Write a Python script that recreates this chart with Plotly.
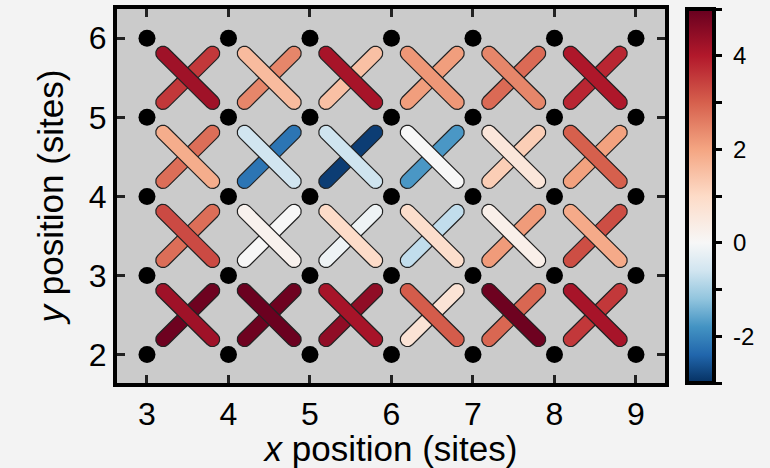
import numpy as np
import plotly.graph_objects as go
from plotly.colors import sample_colorscale, hex_to_rgb

# ---- lattice ----------------------------------------------------------
SITE_X = [3, 4, 5, 6, 7, 8, 9]
SITE_Y = [2, 3, 4, 5, 6]

# Plaquettes are labelled by their lower-left corner.
CELL_X = [3, 4, 5, 6, 7, 8]
CELL_Y = [2, 3, 4, 5]

# Diagonal bond values, one row per CELL_Y entry, one column per CELL_X entry.
# DOWN: bond from the upper-left site to the lower-right site ("\")
# UP:   bond from the lower-left site to the upper-right site ("/")
DOWN = [
    [4.25, 4.95, 4.15, 3.05, 4.90, 4.15],   # y = 2
    [3.30, 0.20, 0.95, 0.90, 0.30, 1.90],   # y = 3
    [1.85, -0.60, -0.62, 0.00, 0.60, 3.00],  # y = 4
    [4.25, 1.60, 4.15, 2.20, 2.45, 4.05],   # y = 5
]
UP = [
    [4.90, 4.90, 4.45, 0.70, 2.90, 3.55],   # y = 2
    [2.80, 0.00, -0.15, -0.75, 2.15, 3.25],  # y = 3
    [2.80, -2.20, -2.85, -1.75, 1.25, 2.05],  # y = 4
    [3.55, 2.45, 1.50, 2.10, 2.85, 3.80],   # y = 5
]

CMIN, CMAX = -3.0, 5.0
CB_TICKS = [-3, -2, -1, 0, 1, 2, 3, 4, 5]
CB_LABELS = ["", "-2", "", "0", "", "2", "", "4", ""]

# ---- colour scale: RdBu (reversed) with its white midpoint pinned at 0 ----
BLUE_HALF = ["#053061", "#2166ac", "#4393c3", "#92c5de", "#d1e5f0", "#f7f7f7"]
RED_HALF = ["#f7f7f7", "#fddbc7", "#f4a582", "#d6604d", "#b2182b", "#67001f"]
zero = (0 - CMIN) / (CMAX - CMIN)


def rgb(h):
    r, g, b = hex_to_rgb(h)
    return f"rgb({r},{g},{b})"


colorscale = []
for i, c in enumerate(BLUE_HALF):
    colorscale.append([zero * i / (len(BLUE_HALF) - 1), rgb(c)])
for i, c in enumerate(RED_HALF[1:], start=1):
    colorscale.append([zero + (1 - zero) * i / (len(RED_HALF) - 1), rgb(c)])


def value_color(v):
    t = (v - CMIN) / (CMAX - CMIN)
    return sample_colorscale(colorscale, [min(max(t, 0), 1)])[0]


# ---- layout geometry ----------------------------------------------------
W, H = 770, 468
M = dict(l=117, r=105, t=5, b=85)
XRANGE = [2.632, 9.356]
YRANGE = [1.64, 6.37]
kx = (W - M["l"] - M["r"]) / (XRANGE[1] - XRANGE[0])   # px per site in x
ky = (H - M["t"] - M["b"]) / (YRANGE[1] - YRANGE[0])   # px per site in y

BAR_HALF = 35.0    # half length of a bond's centre line, px
BAR_R = 7.2        # half width of a bond (cap radius), px


def stadium(cx, cy, sign):
    """Rounded bar centred on (cx, cy) along the (1, sign) diagonal."""
    th = np.arctan2(sign, 1.0)
    ux, uy = np.cos(th), np.sin(th)
    a = np.linspace(-np.pi / 2, np.pi / 2, 24)
    xs, ys = [], []
    for end, rng in ((1, a), (-1, a + np.pi)):
        px = end * BAR_HALF * ux + BAR_R * np.cos(th + rng)
        py = end * BAR_HALF * uy + BAR_R * np.sin(th + rng)
        xs.extend(cx + px / kx)
        ys.extend(cy + py / ky)
    xs.append(xs[0])
    ys.append(ys[0])
    return xs, ys


fig = go.Figure()

for j, y0 in enumerate(CELL_Y):
    for i, x0 in enumerate(CELL_X):
        cx, cy = x0 + 0.5, y0 + 0.5
        for vals, sign in ((UP, 1), (DOWN, -1)):
            xs, ys = stadium(cx, cy, sign)
            fig.add_trace(go.Scatter(
                x=xs, y=ys, mode="lines", fill="toself",
                fillcolor=value_color(vals[j][i]),
                line=dict(color="#222222", width=1.2),
                hoverinfo="skip", showlegend=False,
            ))

# lattice sites
gx, gy = np.meshgrid(SITE_X, SITE_Y)
fig.add_trace(go.Scatter(
    x=gx.ravel(), y=gy.ravel(), mode="markers",
    marker=dict(size=17, color="black", line=dict(width=0)),
    hoverinfo="skip", showlegend=False,
))

# colour bar
NB = "\u00a0"
fig.add_trace(go.Scatter(
    x=[None], y=[None], mode="markers", showlegend=False, hoverinfo="skip",
    marker=dict(
        color=[CMIN], cmin=CMIN, cmax=CMAX, colorscale=colorscale,
        showscale=True,
        colorbar=dict(
            x=1.0395, xanchor="left", xpad=0, y=0.5, yanchor="middle",
            len=1.0, lenmode="fraction", ypad=0,
            thickness=27, outlinewidth=4, outlinecolor="black",
            tickmode="array", tickvals=CB_TICKS,
            ticktext=[NB + t if t else t for t in CB_LABELS],
            ticks="outside", ticklen=6, tickwidth=3, tickcolor="black",
            tickfont=dict(size=24, color="black",
                          family="Liberation Sans, Arial, sans-serif"),
        ),
    ),
))

axis_common = dict(
    showgrid=False, zeroline=False,
    showline=True, linecolor="black", linewidth=4, mirror="allticks",
    ticks="inside", ticklen=8, tickwidth=3, tickcolor="#222222",
    tickfont=dict(size=32, color="black"),
)

fig.update_layout(
    width=W, height=H, margin=M,
    paper_bgcolor="#f3f3f3", plot_bgcolor="#cbcbcb",
    font=dict(family="Liberation Sans, Arial, sans-serif", color="black"),
    xaxis=dict(range=XRANGE, tickvals=SITE_X, **axis_common,
               title=dict(text="<i>x</i> position (sites)",
                          font=dict(size=35), standoff=4)),
    yaxis=dict(range=YRANGE, tickvals=SITE_Y, **axis_common,
               title=dict(text="<i>y</i> position (sites)",
                          font=dict(size=35), standoff=16)),
)

fig.write_html("out.html")
